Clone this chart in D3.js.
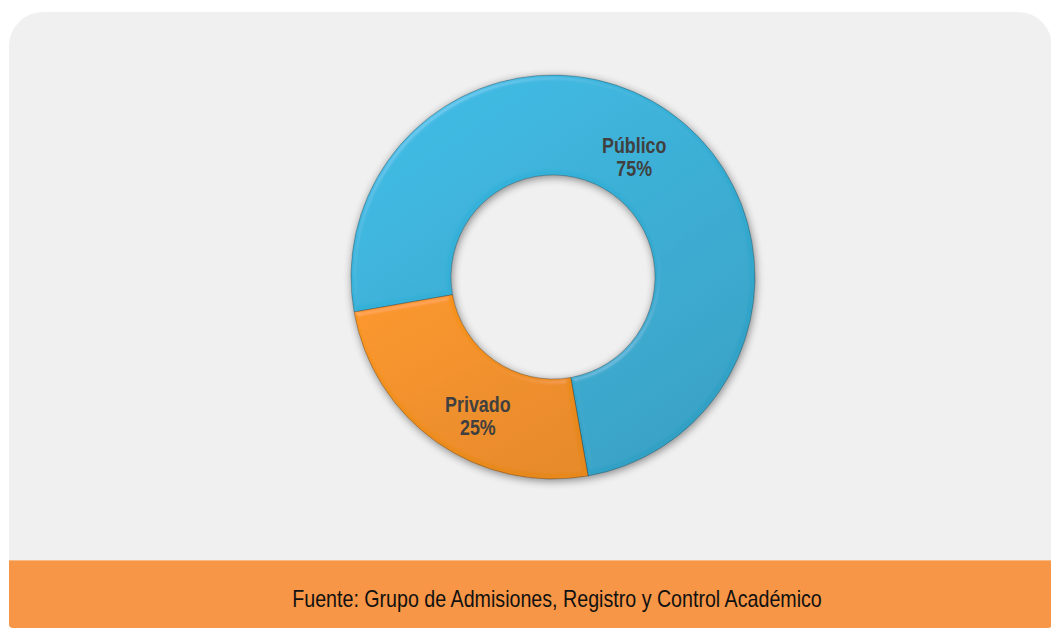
<!DOCTYPE html>
<html lang="es">
<head>
<meta charset="UTF-8" />
<title>Público / Privado</title>
<style>
  html, body { margin: 0; padding: 0; background: #ffffff; }
  svg { display: block; }
</style>
</head>
<body>
<svg width="1051" height="628" id="svg"></svg>
<script src="https://cdn.jsdelivr.net/npm/d3@7"></script>
<script>
  // datos
  const categories = ["Público", "Privado"]
  const values = [75, 25]
  const colors = ["#38b9e2", "#f7921f"]
  const source = "Fuente: Grupo de Admisiones, Registro y Control Académico"

  const svg = d3.select("#svg")
  const width = +svg.attr("width")
  const height = +svg.attr("height")

  const defs = svg.append("defs")

  // sombra suave alrededor del anillo
  const shadow = defs.append("filter").attr("id", "shadow")
    .attr("x", "-20%").attr("y", "-20%").attr("width", "140%").attr("height", "140%")
  shadow.append("feGaussianBlur").attr("in", "SourceAlpha").attr("stdDeviation", 4).attr("result", "blur")
  shadow.append("feOffset").attr("in", "blur").attr("dx", 1).attr("dy", 2).attr("result", "off")
  shadow.append("feComponentTransfer").attr("in", "off").attr("result", "soft")
    .append("feFuncA").attr("type", "linear").attr("slope", 0.45)
  const sm = shadow.append("feMerge")
  sm.append("feMergeNode").attr("in", "soft")
  sm.append("feMergeNode").attr("in", "SourceGraphic")

  // bisel (efecto 3D de Excel)
  const bevel = defs.append("filter").attr("id", "bevel")
  bevel.append("feGaussianBlur").attr("in", "SourceAlpha").attr("stdDeviation", 2.5).attr("result", "b")
  const spec = bevel.append("feSpecularLighting").attr("in", "b")
    .attr("surfaceScale", 3).attr("specularConstant", 0.5).attr("specularExponent", 22)
    .attr("lighting-color", "#ffffff").attr("result", "spec")
  spec.append("feDistantLight").attr("azimuth", 235).attr("elevation", 40)
  bevel.append("feComposite").attr("in", "spec").attr("in2", "SourceAlpha").attr("operator", "in").attr("result", "specIn")
  bevel.append("feComposite").attr("in", "SourceGraphic").attr("in2", "specIn")
    .attr("operator", "arithmetic").attr("k1", 0).attr("k2", 1).attr("k3", 0.22).attr("k4", 0)

  // degradados por sector
  const darken = [0.4, 0.2]
  colors.forEach((c, i) => {
    const g = defs.append("linearGradient").attr("id", "grad" + i)
      .attr("x1", "0%").attr("y1", "0%").attr("x2", "70%").attr("y2", "100%")
    g.append("stop").attr("offset", "0%").attr("stop-color", d3.color(c).brighter(0.05))
    g.append("stop").attr("offset", "100%").attr("stop-color", d3.color(c).darker(darken[i]))
  })

  // fondo
  svg.append("rect")
    .attr("x", 9).attr("y", 12)
    .attr("width", 1043).attr("height", 600)
    .attr("rx", 34).attr("ry", 34)
    .attr("fill", "#f0f0f0")

  // pie de página
  svg.append("rect")
    .attr("x", 9).attr("y", 560)
    .attr("width", 1043).attr("height", 68)
    .attr("rx", 4).attr("ry", 4)
    .attr("fill", "#f79646")
  svg.append("rect")
    .attr("x", 9).attr("y", 560)
    .attr("width", 1043).attr("height", 10)
    .attr("fill", "#f79646")
  svg.append("line")
    .attr("x1", 9).attr("x2", 1052).attr("y1", 560.5).attr("y2", 560.5)
    .attr("stroke", "#f8b985").attr("stroke-width", 1)

  svg.append("text")
    .attr("transform", "translate(557,607) scale(0.855,1)")
    .attr("text-anchor", "middle")
    .attr("font-family", "'Liberation Sans', Arial, sans-serif")
    .attr("font-size", 23)
    .attr("fill", "#111111")
    .text(source)

  // anillo
  const cx = 553, cy = 277
  const outerR = 202, innerR = 102

  const pie = d3.pie().sort(null)
    .startAngle(260 * Math.PI / 180)
    .endAngle((260 + 360) * Math.PI / 180)
  const arcs = pie(values)

  const arc = d3.arc().innerRadius(innerR).outerRadius(outerR)
  const labelArc = d3.arc().innerRadius(152).outerRadius(152)

  const g = svg.append("g").attr("transform", `translate(${cx},${cy})`)

  g.append("g").attr("filter", "url(#shadow)")
    .selectAll("path")
    .data(arcs)
    .join("path")
    .attr("d", arc)
    .attr("fill", (d, i) => `url(#grad${i})`)
    .attr("filter", "url(#bevel)")
    .attr("stroke", "rgba(30,30,30,0.4)")
    .attr("stroke-width", 0.8)

  // ajuste fino de las etiquetas respecto al centroide
  const nudge = { "Público": [-6, 4], "Privado": [12, 13] }

  const labels = g.selectAll("g.label")
    .data(arcs)
    .join("g")
    .attr("class", "label")
    .attr("transform", (d, i) => {
      const [x, y] = labelArc.centroid(d)
      const n = nudge[categories[i]]
      return `translate(${x + n[0]},${y + n[1]}) scale(0.83,1)`
    })

  labels.append("text")
    .attr("text-anchor", "middle")
    .attr("y", -3)
    .attr("font-family", "'Liberation Sans', Arial, sans-serif")
    .attr("font-weight", "bold")
    .attr("font-size", 21.5)
    .attr("fill", "#404040")
    .text((d, i) => categories[i])

  labels.append("text")
    .attr("text-anchor", "middle")
    .attr("y", 20)
    .attr("font-family", "'Liberation Sans', Arial, sans-serif")
    .attr("font-weight", "bold")
    .attr("font-size", 21.5)
    .attr("fill", "#404040")
    .text((d, i) => Math.round(d.value / d3.sum(values) * 100) + "%")
</script>
</body>
</html>
